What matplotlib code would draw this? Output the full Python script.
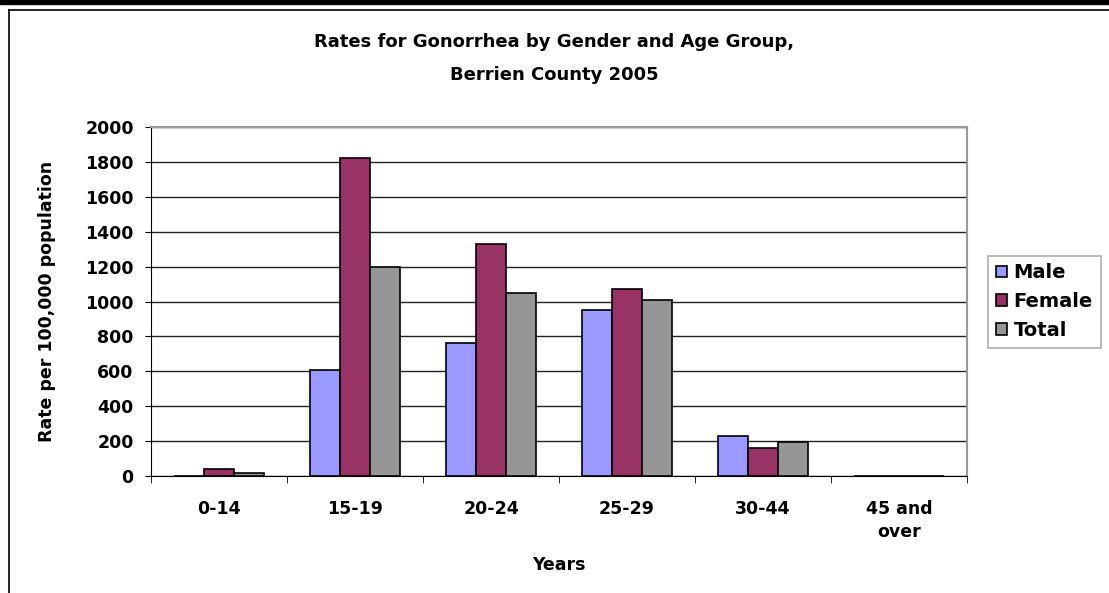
import numpy as np
import matplotlib
matplotlib.use("Agg")
import matplotlib.pyplot as plt
from matplotlib.lines import Line2D
from matplotlib.patches import Rectangle

plt.rcParams['font.family'] = ['DejaVu Sans']
plt.rcParams['font.weight'] = 'bold'

# data
age_groups = ['0-14', '15-19', '20-24', '25-29', '30-44', '45 and\nover']
male = [0, 607, 762, 951, 229, 0]
female = [40, 1822, 1330, 1072, 159, 0]
total = [20, 1198, 1049, 1009, 195, 0]
series_names = ['Male', 'Female', 'Total']
colors = ['#9999FF', '#993366', '#969696']

fig = plt.figure(figsize=(11.09, 5.93), dpi=100)
ax = fig.add_axes([0.1362, 0.1973, 0.7358, 0.5885])

x = np.arange(len(age_groups))
w = 0.22
for i, (vals, name, c) in enumerate(zip([male, female, total], series_names, colors)):
    ax.bar(x + (i - 1) * w, vals, width=w, color=c, edgecolor='black',
           linewidth=1.2, label=name, zorder=3)

ax.set_xlim(-0.5, len(age_groups) - 0.5)
ax.set_ylim(0, 2000)
ax.set_yticks(np.arange(0, 2001, 200))
ax.yaxis.grid(True, color='#222222', linewidth=1.0, zorder=0)
ax.set_axisbelow(True)

ax.set_xticks(x)
ax.set_xticklabels(age_groups, fontsize=12.5, fontweight='bold', linespacing=1.4)
ax.set_xticks(np.arange(-0.5, len(age_groups)), minor=True)
ax.tick_params(axis='x', which='major', length=0, pad=17)
ax.tick_params(axis='x', which='minor', length=5, direction='out', color='black')
ax.tick_params(axis='y', length=4.5, direction='out', labelsize=12.5, pad=8)
for lab in ax.get_yticklabels():
    lab.set_fontweight('bold')

for s in ['top', 'right']:
    ax.spines[s].set_color('#999999')
    ax.spines[s].set_linewidth(1.5)
ax.spines['left'].set_color('black')
ax.spines['bottom'].set_color('black')

ax.set_ylabel('Rate per 100,000 population', fontsize=12.5, fontweight='bold', labelpad=21)
ax.set_xlabel('Years', fontsize=12.5, fontweight='bold', labelpad=11)
fig.text(0.5, 0.944, 'Rates for Gonorrhea by Gender and Age Group,\nBerrien County 2005',
         ha='center', va='top', fontsize=13, fontweight='bold', linespacing=2.05)

leg = ax.legend(loc='center left', bbox_to_anchor=(1.026, 0.5), fontsize=14,
                frameon=True, fancybox=False, edgecolor='#999999',
                handlelength=0.55, handleheight=0.55, handletextpad=0.35,
                borderpad=0.4, labelspacing=0.5, borderaxespad=0)
leg.get_frame().set_linewidth(1.2)
for t in leg.get_texts():
    t.set_fontweight('bold')

# outer frame like the source page
fig.add_artist(Rectangle((0, 1 - 4 / 593), 1, 4 / 593, transform=fig.transFigure,
                         color='black'))
fig.add_artist(Line2D([9 / 1109, 9 / 1109], [0, 1 - 10 / 593], transform=fig.transFigure,
                      color='black', linewidth=1.2))
fig.add_artist(Line2D([9 / 1109, 1], [1 - 10 / 593, 1 - 10 / 593], transform=fig.transFigure,
                      color='black', linewidth=1.2))

fig.savefig('out.png', dpi=100)
